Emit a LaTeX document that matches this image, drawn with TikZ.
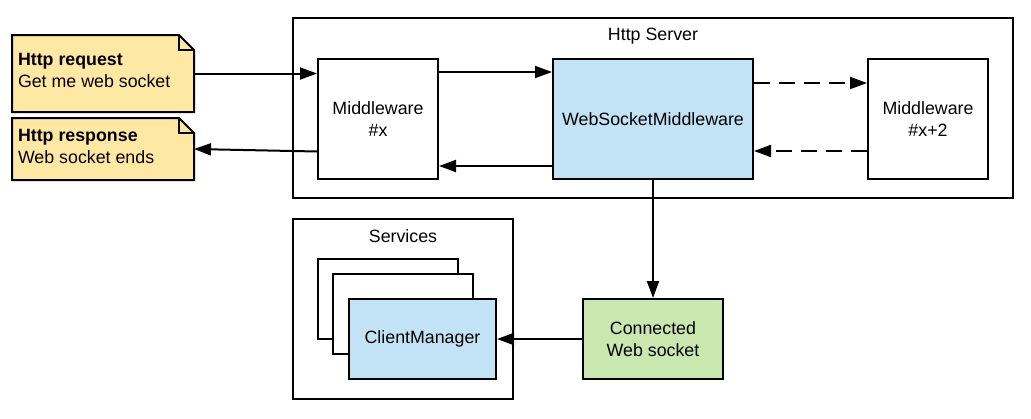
\documentclass[tikz,border=0pt]{standalone}
\usepackage{fontspec}
\setmainfont{Liberation Sans}
\usetikzlibrary{arrows.meta}
\definecolor{noteyellow}{HTML}{FFE8A3}
\definecolor{boxblue}{HTML}{C2E3F5}
\definecolor{boxgreen}{HTML}{C9E7AE}
\begin{document}
\begin{tikzpicture}[x=1pt,y=-1pt,line width=2pt,
  every node/.style={font=\fontsize{17.8}{21.5}\selectfont, inner sep=0pt},
  box/.style={draw, rectangle, align=center},
  notebox/.style={rectangle, draw=none},
  notepath/.style={draw, fill=noteyellow, line join=miter},
  arr/.style={-{Triangle[length=17pt,width=12pt]}},
  dasharr/.style={arr, dash pattern=on 16pt off 9pt}]
\useasboundingbox (0,0) rectangle (1031,418);
% containers
\node[box, minimum width=720pt, minimum height=180pt] (server) at (653,108) {};
\node (servertitle) at ([yshift=-19pt]server.north) {Http Server};
\node[box, minimum width=220pt, minimum height=180pt] (services) at (403,309) {};
\node (servicestitle) at ([yshift=-18pt]services.north) {Services};
% middlewares
\node[box, minimum width=120pt, minimum height=120pt] (mw1) at (378,119) {Middleware\\\#x};
\node[box, fill=boxblue, minimum width=200pt, minimum height=120pt] (wsm) at (653,119) {WebSocketMiddleware};
\node[box, minimum width=120pt, minimum height=120pt] (mw2) at (928,119) {Middleware\\\#x+2};
% notes
\node[notebox, minimum width=180pt, minimum height=75pt] (req) at (103,73.5) {};
\draw[notepath] (req.north west) -- ([xshift=-15pt]req.north east) -- ([yshift=-15pt]req.north east) -- (req.south east) -- (req.south west) -- cycle;
\draw[line join=miter] ([xshift=-15pt]req.north east) -- ([xshift=-15pt,yshift=-15pt]req.north east) -- ([yshift=-15pt]req.north east);
\node[anchor=west, align=left] (reqtext) at ([xshift=5pt,yshift=3pt]req.west) {\textbf{Http request}\\Get me web socket};
\node[notebox, minimum width=180pt, minimum height=60pt] (resp) at (103,149) {};
\draw[notepath] (resp.north west) -- ([xshift=-15pt]resp.north east) -- ([yshift=-15pt]resp.north east) -- (resp.south east) -- (resp.south west) -- cycle;
\draw[line join=miter] ([xshift=-15pt]resp.north east) -- ([xshift=-15pt,yshift=-15pt]resp.north east) -- ([yshift=-15pt]resp.north east);
\node[anchor=west, align=left] (resptext) at ([xshift=5pt,yshift=2.5pt]resp.west) {\textbf{Http response}\\Web socket ends};
% services stack
\node[box, fill=white, minimum width=140pt, minimum height=80pt] (stackA) at (388,299) {};
\node[box, fill=white, minimum width=140pt, minimum height=80pt] (stackB) at (403,314) {};
\node[box, fill=boxblue, minimum width=147pt, minimum height=80pt] (cm) at (422.5,339) {ClientManager};
\node[box, fill=boxgreen, minimum width=140pt, minimum height=80pt] (conn) at (653,339) {Connected\\Web socket};
% connectors
\draw[arr] (req.east) -- (req.east -| mw1.west);
\draw[arr] ([yshift=-2.5pt]mw1.west |- resp.east) -- (resp.east);
\draw[arr] ([yshift=-14pt]mw1.north east) -- ([yshift=-14pt]mw1.north east -| wsm.west);
\draw[arr] ([yshift=14pt]wsm.south west) -- ([yshift=14pt]wsm.south west -| mw1.east);
\draw[dasharr] ([yshift=-25pt]wsm.north east) -- ([yshift=-25pt]wsm.north east -| mw2.west);
\draw[dasharr] ([yshift=29pt]wsm.south east -| mw2.west) -- ([yshift=29pt]wsm.south east);
\draw[arr] (wsm.south) -- (conn.north);
\draw[arr] (conn.west) -- (cm.east);
\end{tikzpicture}
\end{document}
